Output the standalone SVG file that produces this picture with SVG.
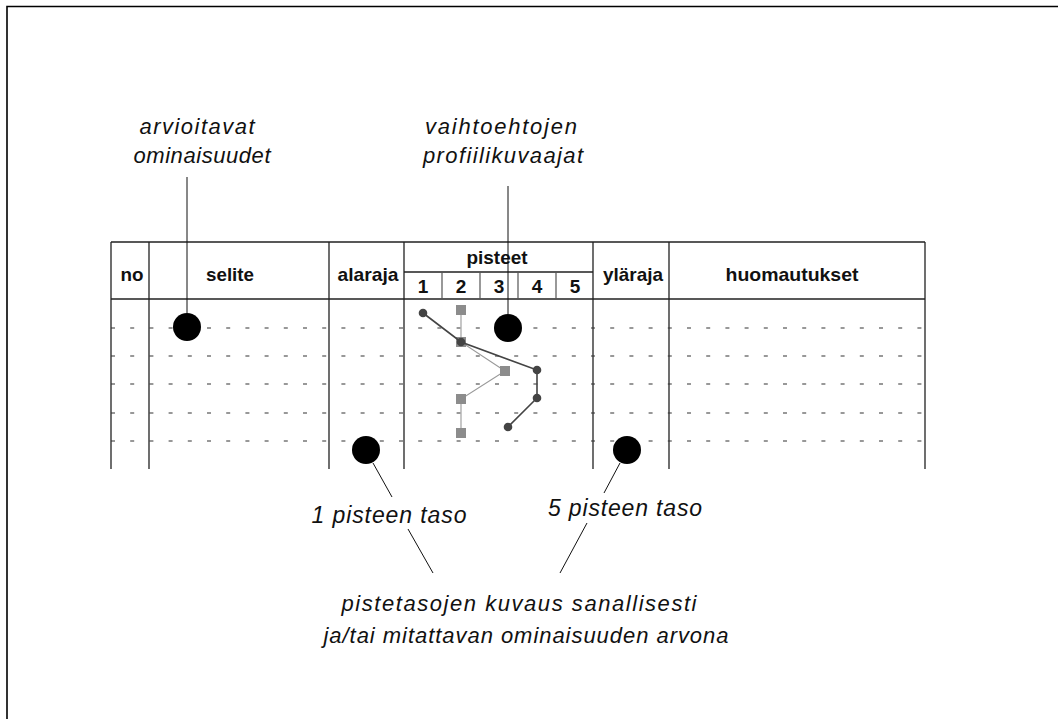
<svg xmlns="http://www.w3.org/2000/svg" width="1058" height="719" viewBox="0 0 1058 719">
  <style>
    .frame { stroke: #000; stroke-width: 1.6; fill: none; }
    .grid { stroke: #222; stroke-width: 1.3; fill: none; }
    .sub { stroke: #555; stroke-width: 1.2; fill: none; }
    .dash { stroke: #333; stroke-width: 1.1; stroke-dasharray: 4 15.2; fill: none; }
    .lead { stroke: #111; stroke-width: 1; fill: none; }
    .dot { fill: #000; }
    .head { font-family: "Liberation Sans", Arial, sans-serif; font-weight: bold; font-size: 19px; fill: #111; text-anchor: middle; }
    .note { font-family: "Liberation Sans", Arial, sans-serif; font-style: italic; fill: #111; text-anchor: middle; }
    .profA { stroke: #444; stroke-width: 1.6; fill: none; }
    .profB { stroke: #999; stroke-width: 1.1; fill: none; }
    .ptA { fill: #444; }
    .ptB { fill: #8c8c8c; }
  </style>

  <!-- page frame (top and left edges) -->
  <g id="frame">
    <path class="frame" d="M7 719 V6.5 H1058"/>
  </g>

  <!-- evaluation table -->
  <g id="table">
    <path class="grid" d="M111 242 H925 M111 299 H925 M404 272 H593"/>
    <path class="grid" d="M111 242 V469 M149 242 V469 M329 242 V469 M404 242 V469 M593 242 V469 M669 242 V469 M925 242 V469"/>
    <path class="sub" d="M442 272 V299 M480 272 V299 M518 272 V299 M556 272 V299"/>
    <path class="dash" d="M111 328 H925 M111 356 H925 M111 384 H925 M111 413 H925 M111 441 H925"/>
    <text class="head" x="132" y="281" textLength="23" lengthAdjust="spacingAndGlyphs">no</text>
    <text class="head" x="230" y="281" textLength="48" lengthAdjust="spacingAndGlyphs">selite</text>
    <text class="head" x="368" y="281" textLength="61" lengthAdjust="spacingAndGlyphs">alaraja</text>
    <text class="head" x="497" y="264" textLength="61" lengthAdjust="spacingAndGlyphs">pisteet</text>
    <text class="head" x="423" y="293">1</text>
    <text class="head" x="461" y="293">2</text>
    <text class="head" x="499" y="293">3</text>
    <text class="head" x="537" y="293">4</text>
    <text class="head" x="575" y="293">5</text>
    <text class="head" x="633" y="281" textLength="60" lengthAdjust="spacingAndGlyphs">yläraja</text>
    <text class="head" x="792" y="281" textLength="133" lengthAdjust="spacingAndGlyphs">huomautukset</text>
  </g>

  <!-- profile curves of two alternatives -->
  <g id="profiles">
    <polyline class="profB" points="461,310 461,342 505,371 461,399 461,433"/>
    <rect class="ptB" x="456" y="305" width="10" height="10"/>
    <rect class="ptB" x="456" y="337" width="10" height="10"/>
    <rect class="ptB" x="500" y="366" width="10" height="10"/>
    <rect class="ptB" x="456" y="394" width="10" height="10"/>
    <rect class="ptB" x="456" y="428" width="10" height="10"/>
    <polyline class="profA" points="423,313 461,342 537,370 537,398 508,427"/>
    <circle class="ptA" cx="423" cy="313" r="4.3"/>
    <circle class="ptA" cx="461" cy="342" r="4.3"/>
    <circle class="ptA" cx="537" cy="370" r="4.3"/>
    <circle class="ptA" cx="537" cy="398" r="4.3"/>
    <circle class="ptA" cx="508" cy="427" r="4.3"/>
  </g>

  <!-- annotation nodes -->
  <g id="node-arvioitavat">
    <text class="note" font-size="22" x="197" y="134" textLength="115" lengthAdjust="spacing">arvioitavat</text>
    <text class="note" font-size="22" x="202" y="163" textLength="137" lengthAdjust="spacing">ominaisuudet</text>
    <circle class="dot" cx="187" cy="327" r="14"/>
  </g>
  <g id="node-vaihtoehtojen">
    <text class="note" font-size="22" x="501" y="134" textLength="152" lengthAdjust="spacing">vaihtoehtojen</text>
    <text class="note" font-size="22" x="503" y="163" textLength="160" lengthAdjust="spacing">profiilikuvaajat</text>
    <circle class="dot" cx="508" cy="328" r="14"/>
  </g>
  <g id="node-alaraja">
    <circle class="dot" cx="366" cy="450" r="14"/>
  </g>
  <g id="node-ylaraja">
    <circle class="dot" cx="627" cy="450" r="14"/>
  </g>
  <g id="node-taso1">
    <text class="note" font-size="23" x="389" y="523" textLength="155" lengthAdjust="spacing">1 pisteen taso</text>
  </g>
  <g id="node-taso5">
    <text class="note" font-size="23" x="625" y="516" textLength="154" lengthAdjust="spacing">5 pisteen taso</text>
  </g>
  <g id="node-kuvaus">
    <text class="note" font-size="22" x="519" y="611" textLength="355" lengthAdjust="spacing">pistetasojen kuvaus sanallisesti</text>
    <text class="note" font-size="22" x="526" y="643" textLength="405" lengthAdjust="spacing">ja/tai mitattavan ominaisuuden arvona</text>
  </g>

  <!-- leader lines -->
  <g id="connectors">
    <path class="lead" d="M187 177 V313"/>
    <path class="lead" d="M508 186 V314"/>
    <path class="lead" d="M373 463 L392 497"/>
    <path class="lead" d="M620 463 L604 493"/>
    <path class="lead" d="M408 529 L433 573"/>
    <path class="lead" d="M587 523 L560 573"/>
  </g>
</svg>
